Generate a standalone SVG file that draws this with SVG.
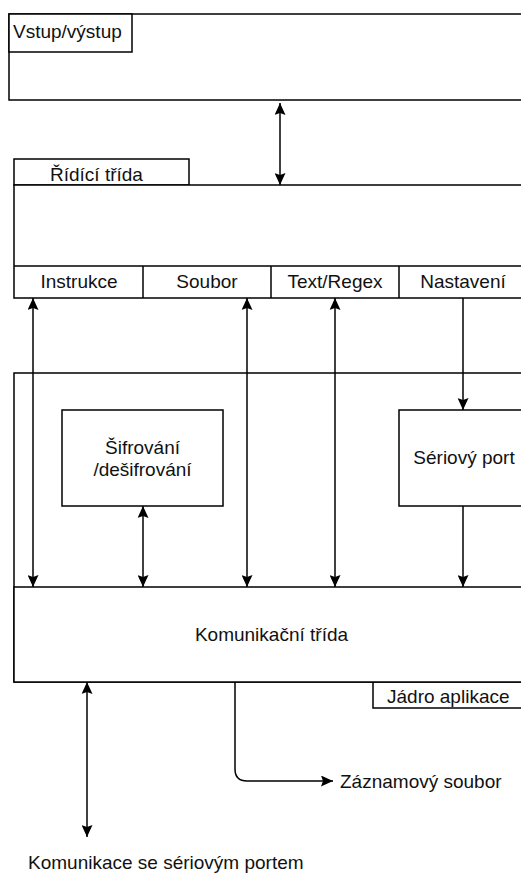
<svg xmlns="http://www.w3.org/2000/svg" width="521" height="874" viewBox="0 0 521 874">
  <style>
    .box { fill: #ffffff; stroke: #000000; stroke-width: 1.5; }
    .edge { fill: none; stroke: #000000; stroke-width: 1.5; }
    .lbl { font-family: "Liberation Sans", Arial, sans-serif; font-size: 19px; fill: #111111; }
    .mid { text-anchor: middle; }
  </style>
  <defs>
    <marker id="arrow" viewBox="0 0 12 11" refX="12" refY="5.5" markerWidth="12" markerHeight="11" markerUnits="userSpaceOnUse" orient="auto-start-reverse">
      <path d="M0,0 L12,5.5 L0,11 L2,5.5 z" fill="#000000"/>
    </marker>
  </defs>

  <rect width="521" height="874" fill="#ffffff"/>

  <!-- Input/output layer -->
  <g id="vstup-vystup">
    <rect class="box" x="9" y="14" width="530" height="86"/>
    <rect class="box" x="9" y="14" width="123" height="38"/>
    <text class="lbl" x="13" y="38">Vstup/výstup</text>
  </g>

  <!-- Control class with its four parts -->
  <g id="ridici-trida">
    <rect class="box" x="14" y="159" width="175" height="26"/>
    <text class="lbl" x="50" y="181">Řídící třída</text>
    <rect class="box" x="14" y="185" width="525" height="113"/>
    <line class="edge" x1="14" y1="266" x2="539" y2="266"/>
    <line class="edge" x1="143" y1="266" x2="143" y2="298"/>
    <line class="edge" x1="271" y1="266" x2="271" y2="298"/>
    <line class="edge" x1="399" y1="266" x2="399" y2="298"/>
  </g>
  <g id="instrukce"><text class="lbl mid" x="79" y="288">Instrukce</text></g>
  <g id="soubor"><text class="lbl mid" x="207" y="288">Soubor</text></g>
  <g id="text-regex"><text class="lbl mid" x="335" y="288">Text/Regex</text></g>
  <g id="nastaveni"><text class="lbl mid" x="463" y="288">Nastavení</text></g>

  <!-- Application core -->
  <g id="jadro-aplikace">
    <rect class="box" x="14" y="373" width="525" height="309"/>
    <rect class="box" x="373" y="682" width="166" height="26"/>
    <text class="lbl" x="387" y="703">Jádro aplikace</text>
  </g>

  <g id="sifrovani">
    <rect class="box" x="62" y="410" width="161" height="96"/>
    <text class="lbl mid" x="142.5" y="454">Šifrování</text>
    <text class="lbl mid" x="142.5" y="476">/dešifrování</text>
  </g>

  <g id="seriovy-port">
    <rect class="box" x="399" y="410" width="140" height="96"/>
    <text class="lbl mid" x="464" y="464">Sériový port</text>
  </g>

  <g id="komunikacni-trida">
    <rect class="box" x="14" y="587" width="525" height="95"/>
    <text class="lbl mid" x="271.5" y="641">Komunikační třída</text>
  </g>

  <!-- External endpoints -->
  <g id="zaznamovy-soubor"><text class="lbl" x="340" y="788">Záznamový soubor</text></g>
  <g id="seriova-komunikace"><text class="lbl" x="28" y="869">Komunikace se sériovým portem</text></g>

  <!-- Connectors -->
  <g id="connectors">
    <line class="edge" x1="280" y1="103" x2="280" y2="185" marker-start="url(#arrow)" marker-end="url(#arrow)"/>
    <line class="edge" x1="33" y1="298" x2="33" y2="587" marker-start="url(#arrow)" marker-end="url(#arrow)"/>
    <line class="edge" x1="247" y1="298" x2="247" y2="587" marker-start="url(#arrow)" marker-end="url(#arrow)"/>
    <line class="edge" x1="335" y1="298" x2="335" y2="587" marker-start="url(#arrow)" marker-end="url(#arrow)"/>
    <line class="edge" x1="463" y1="298" x2="463" y2="410" marker-end="url(#arrow)"/>
    <line class="edge" x1="143" y1="506" x2="143" y2="587" marker-start="url(#arrow)" marker-end="url(#arrow)"/>
    <line class="edge" x1="463" y1="506" x2="463" y2="587" marker-end="url(#arrow)"/>
    <line class="edge" x1="87" y1="682" x2="87" y2="837" marker-start="url(#arrow)" marker-end="url(#arrow)"/>
    <path class="edge" d="M235,682 L235,769 Q235,781 247,781 L333,781" marker-end="url(#arrow)"/>
  </g>
</svg>
